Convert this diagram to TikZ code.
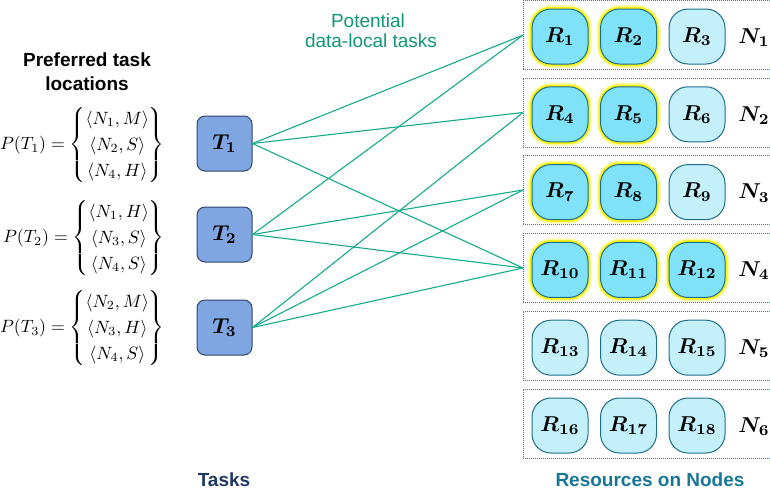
\documentclass[tikz,border=0pt]{standalone}
\usepackage{amsmath}
\usepackage{bm}
\usepackage{graphicx}
\usepackage{fontspec}
\newfontfamily\arialfont{Liberation Sans}
\definecolor{taskfill}{RGB}{127,166,224}
\definecolor{taskborder}{RGB}{47,69,106}
\definecolor{reshot}{RGB}{128,226,248}
\definecolor{reslight}{RGB}{196,240,252}
\definecolor{resborder}{RGB}{30,110,140}
\definecolor{glowA}{RGB}{255,255,170}
\definecolor{glowB}{RGB}{248,240,20}
\definecolor{framecol}{RGB}{40,125,165}
\definecolor{linkcol}{RGB}{20,170,140}
\definecolor{potcol}{RGB}{16,150,120}
\definecolor{taskscol}{RGB}{31,56,100}
\definecolor{rescol}{RGB}{24,118,150}
\newcommand{\myboldmath}[1]{\scalebox{2.15}{$\bm{#1}$}}
\newcommand{\myformula}[1]{\scalebox{1.78}{\renewcommand{\arraystretch}{1.22}$#1$}}
\tikzset{
  taskbox/.style={draw=taskborder, fill=taskfill, rounded corners=8pt, minimum width=55pt, minimum height=55pt, line width=1pt, inner sep=0pt},
  resbox/.style={draw=resborder, fill=reslight, rounded corners=19pt, minimum width=56pt, minimum height=55pt, line width=1pt, inner sep=0pt},
  hotbox/.style={resbox, fill=reshot, preaction={draw=glowA, line width=8pt}, preaction={draw=glowB, line width=4.5pt}},
  nlabel/.style={inner sep=0pt},
  nodeframe/.style={draw=framecol, line width=1pt, dash pattern=on 1pt off 1pt},
  link/.style={draw=linkcol, line width=1.1pt},
  formula/.style={anchor=east, inner sep=0pt},
  heading/.style={font=\arialfont\bfseries\fontsize{19}{24}\selectfont, align=center, inner sep=0pt}
}
\begin{document}
\begin{tikzpicture}[x=1pt,y=-1pt]
\useasboundingbox (0,0) rectangle (770,496);
% node frames
\foreach \i/\t in {1/0.6,2/78,3/155.5,4/233.5,5/311,6/389}{
  \draw[nodeframe] (772,\t) -- (523,\t) -- (523,\t+69) -- (772,\t+69);
  \coordinate (b\i) at (523,\t+34.5);
}
% resources
\foreach \i/\c/\r/\s in {1/1/1/hotbox,2/2/1/hotbox,3/3/1/resbox,
                        4/1/2/hotbox,5/2/2/hotbox,6/3/2/resbox,
                        7/1/3/hotbox,8/2/3/hotbox,9/3/3/resbox,
                        10/1/4/hotbox,11/2/4/hotbox,12/3/4/hotbox,
                        13/1/5/resbox,14/2/5/resbox,15/3/5/resbox,
                        16/1/6/resbox,17/2/6/resbox,18/3/6/resbox}{
  \node[\s] (R\i) at ({491.5+68.5*\c},{-41.3+77.8*\r}) {\myboldmath{R_{\i}}};
}
\foreach \i in {1,...,6}{
  \node[nlabel] (N\i) at (754,{-40.3+77.8*\i}) {\myboldmath{N_{\i}}};
}
% tasks
\node[taskbox] (T1) at (224.5,143.5) {\myboldmath{T_1}};
\node[taskbox] (T2) at (224.5,234.5) {\myboldmath{T_2}};
\node[taskbox] (T3) at (224.5,327.5) {\myboldmath{T_3}};
% links
\draw[link] (T1.east) -- (b1);
\draw[link] (T1.east) -- (b2);
\draw[link] (T1.east) -- (b4);
\draw[link] (T2.east) -- (b1);
\draw[link] (T2.east) -- (b3);
\draw[link] (T2.east) -- (b4);
\draw[link] (T3.east) -- (b2);
\draw[link] (T3.east) -- (b3);
\draw[link] (T3.east) -- (b4);
% texts
\node[heading] (pref) at (87,72) {Preferred task\\locations};
\node[font=\arialfont\fontsize{19}{20}\selectfont, text=potcol, anchor=base, inner sep=0pt] (pot1) at (368,27) {Potential};
\node[font=\arialfont\fontsize{19}{20}\selectfont, text=potcol, anchor=base, inner sep=0pt] (pot2) at (371,47) {data-local tasks};
\node[formula] (P1) at (165,145) {\myformula{P(T_1)=\begin{Bmatrix}\langle N_1,M\rangle\\ \langle N_2,S\rangle\\ \langle N_4,H\rangle\end{Bmatrix}}};
\node[formula] (P2) at (165,238) {\myformula{P(T_2)=\begin{Bmatrix}\langle N_1,H\rangle\\ \langle N_3,S\rangle\\ \langle N_4,S\rangle\end{Bmatrix}}};
\node[formula] (P3) at (165,328) {\myformula{P(T_3)=\begin{Bmatrix}\langle N_2,M\rangle\\ \langle N_3,H\rangle\\ \langle N_4,S\rangle\end{Bmatrix}}};
\node[font=\arialfont\bfseries\fontsize{19}{22}\selectfont, text=taskscol, anchor=base, inner sep=0pt] (tasks) at (224,486) {Tasks};
\node[font=\arialfont\bfseries\fontsize{19}{22}\selectfont, text=rescol, anchor=base, inner sep=0pt] (resn) at (650,486) {Resources on Nodes};
\end{tikzpicture}
\end{document}
